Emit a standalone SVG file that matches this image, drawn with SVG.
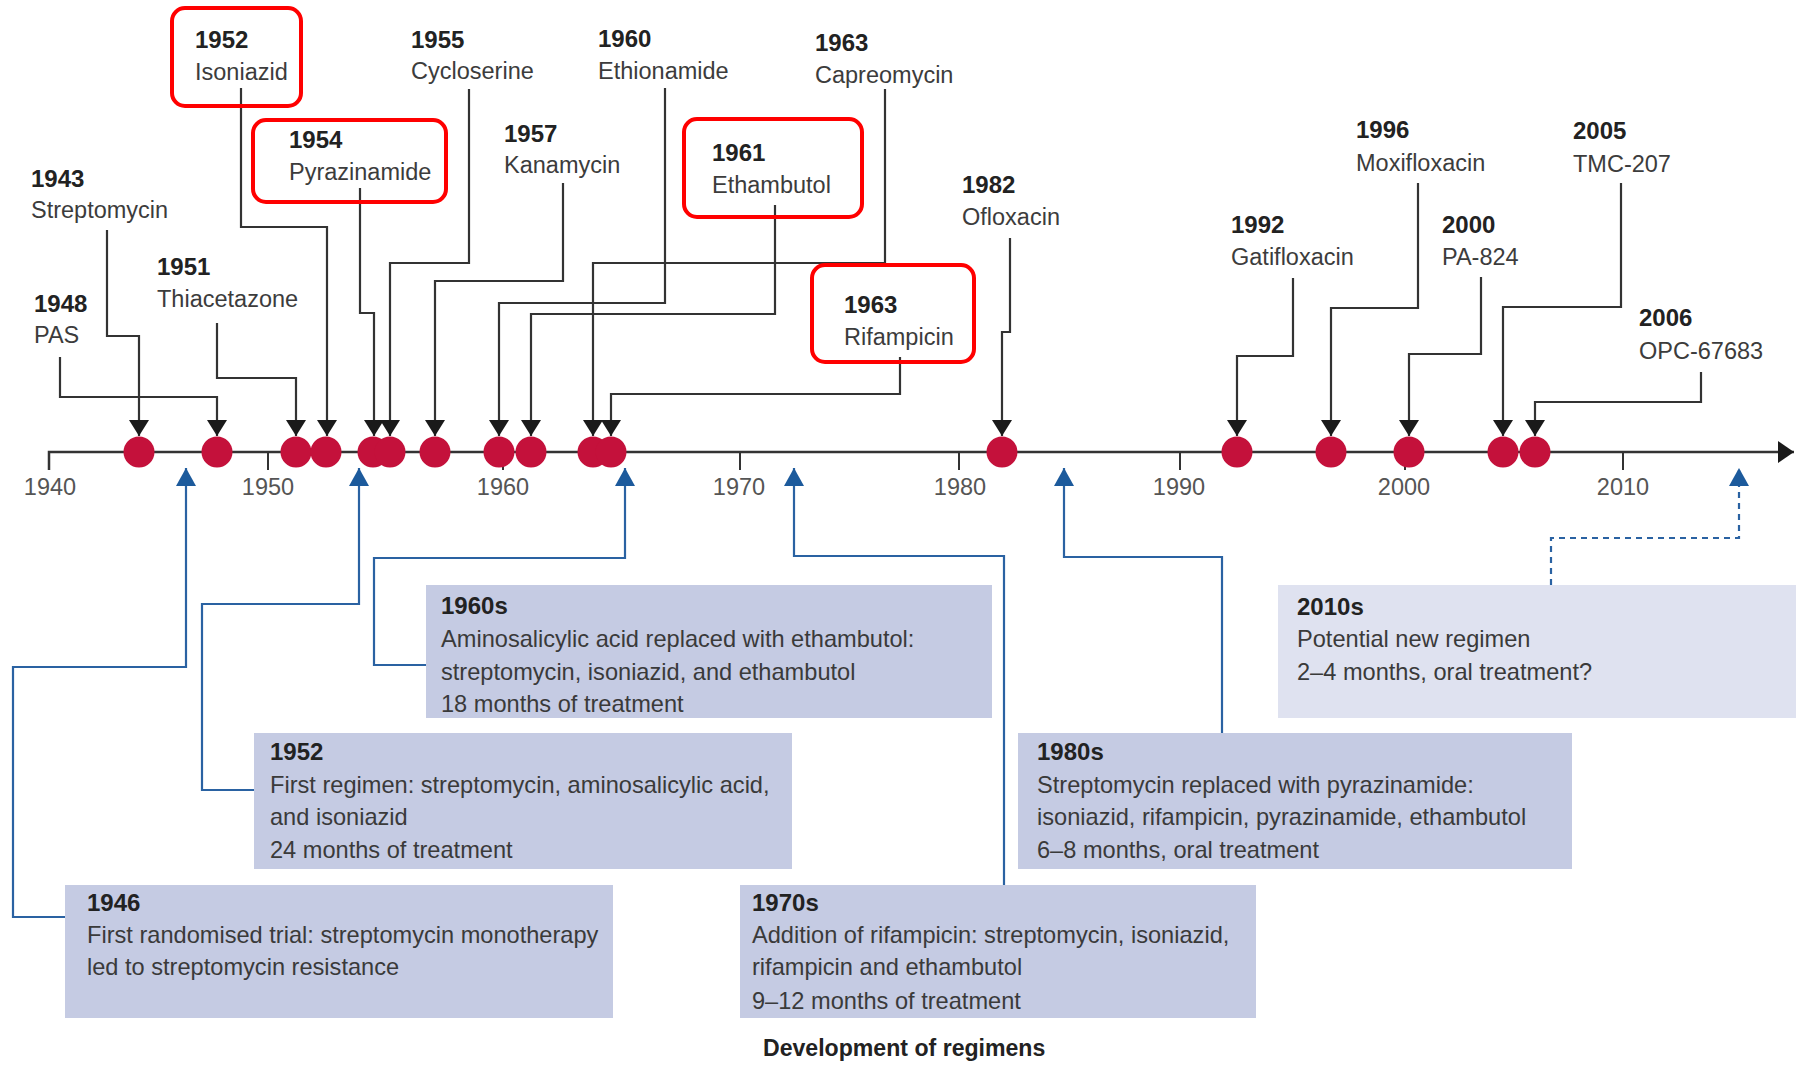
<svg xmlns="http://www.w3.org/2000/svg" width="1796" height="1065" viewBox="0 0 1796 1065">
<defs>
<style>
.yr{font-family:"Liberation Sans",Arial,sans-serif;font-weight:bold;font-size:24px;fill:#222}
.nm{font-family:"Liberation Sans",Arial,sans-serif;font-size:23.5px;fill:#3c3c3c}
.ax{font-family:"Liberation Sans",Arial,sans-serif;font-size:23.5px;fill:#555;text-anchor:middle}
.bt{font-family:"Liberation Sans",Arial,sans-serif;font-size:23.6px;fill:#3a3a3a}
.by{font-family:"Liberation Sans",Arial,sans-serif;font-weight:bold;font-size:24px;fill:#222}
.cap{font-family:"Liberation Sans",Arial,sans-serif;font-weight:bold;font-size:23.1px;fill:#222}
.hl{fill:none;stroke:#ff0000;stroke-width:4}
.dot{fill:#c4113b}
.bk{fill:none;stroke:#333;stroke-width:2.2;marker-end:url(#ab)}
.bl{fill:none;stroke:#2a62a2;stroke-width:2.2;marker-end:url(#au)}
.box{fill:#c5cbe3}
.box2{fill:#dfe2f0}
</style>
<marker id="ab" viewBox="0 0 16 20" refX="16" refY="10" markerWidth="16" markerHeight="20" markerUnits="userSpaceOnUse" orient="auto"><path d="M0,0 L16,10 L0,20 z" fill="#1a1a1a"/></marker>
<marker id="au" viewBox="0 0 18 20" refX="18" refY="10" markerWidth="18" markerHeight="20" markerUnits="userSpaceOnUse" orient="auto"><path d="M0,0 L18,10 L0,20 z" fill="#1c5a9c"/></marker>
<marker id="ax" viewBox="0 0 16 22" refX="16" refY="11" markerWidth="16" markerHeight="22" markerUnits="userSpaceOnUse" orient="auto"><path d="M0,0 L16,11 L0,22 z" fill="#1a1a1a"/></marker>
</defs>
<rect width="1796" height="1065" fill="#ffffff"/>

<g id="axis">
<path d="M49,470 V452 H1794" fill="none" stroke="#333" stroke-width="2.5" marker-end="url(#ax)"/>
<path d="M268,452 V470 M503,452 V470 M740,452 V470 M959,452 V470 M1180,452 V470 M1405,452 V470 M1623,452 V470" stroke="#333" stroke-width="2"/>
<text class="ax" x="50" y="495">1940</text>
<text class="ax" x="268" y="495">1950</text>
<text class="ax" x="503" y="495">1960</text>
<text class="ax" x="739" y="495">1970</text>
<text class="ax" x="960" y="495">1980</text>
<text class="ax" x="1179" y="495">1990</text>
<text class="ax" x="1404" y="495">2000</text>
<text class="ax" x="1623" y="495">2010</text>
</g>

<g id="connectors">
<path class="bk" d="M107,230 V336 H139 V436"/>
<path class="bk" d="M60,357 V397 H217 V436"/>
<path class="bk" d="M217,323 V378 H296 V436"/>
<path class="bk" d="M241,88 V227 H327 V436"/>
<path class="bk" d="M360,188 V313 H374 V436"/>
<path class="bk" d="M469,89 V263 H390 V436"/>
<path class="bk" d="M563,183 V281 H435 V436"/>
<path class="bk" d="M665,88 V303 H499 V436"/>
<path class="bk" d="M775,205 V314 H531 V436"/>
<path class="bk" d="M885,89 V263 H593 V436"/>
<path class="bk" d="M900,357 V394 H611 V436"/>
<path class="bk" d="M1010,238 V332 H1002 V436"/>
<path class="bk" d="M1293,278 V356 H1237 V436"/>
<path class="bk" d="M1418,183 V308 H1331 V436"/>
<path class="bk" d="M1481,277 V354 H1409 V436"/>
<path class="bk" d="M1621,183 V307 H1503 V436"/>
<path class="bk" d="M1701,372 V402 H1535 V436"/>
<path class="bl" d="M65,917 H13 V667 H186 V468"/>
<path class="bl" d="M254,790 H202 V604 H359 V468"/>
<path class="bl" d="M426,665 H374 V558 H625 V468"/>
<path class="bl" d="M1004,885 V556 H794 V468"/>
<path class="bl" d="M1222,733 V557 H1064 V468"/>
<path class="bl" d="M1551,585 V538 H1739 V468" stroke-dasharray="6 5"/>
</g>

<g id="dots">
<circle class="dot" cx="139" cy="452" r="15.5"/>
<circle class="dot" cx="217" cy="452" r="15.5"/>
<circle class="dot" cx="296" cy="452" r="15.5"/>
<circle class="dot" cx="326" cy="452" r="15.5"/>
<circle class="dot" cx="373" cy="452" r="15.5"/>
<circle class="dot" cx="390" cy="452" r="15.5"/>
<circle class="dot" cx="435" cy="452" r="15.5"/>
<circle class="dot" cx="499" cy="452" r="15.5"/>
<circle class="dot" cx="531" cy="452" r="15.5"/>
<circle class="dot" cx="593" cy="452" r="15.5"/>
<circle class="dot" cx="611" cy="452" r="15.5"/>
<circle class="dot" cx="1002" cy="452" r="15.5"/>
<circle class="dot" cx="1237" cy="452" r="15.5"/>
<circle class="dot" cx="1331" cy="452" r="15.5"/>
<circle class="dot" cx="1409" cy="452" r="15.5"/>
<circle class="dot" cx="1503" cy="452" r="15.5"/>
<circle class="dot" cx="1535" cy="452" r="15.5"/>
</g>

<g id="d1943"><text class="yr" x="31" y="187">1943</text><text class="nm" x="31" y="218">Streptomycin</text></g>
<g id="d1948"><text class="yr" x="34" y="312">1948</text><text class="nm" x="34" y="343">PAS</text></g>
<g id="d1951"><text class="yr" x="157" y="275">1951</text><text class="nm" x="157" y="307">Thiacetazone</text></g>
<g id="d1952"><rect class="hl" x="172" y="8" width="129" height="98" rx="13"/><text class="yr" x="195" y="48">1952</text><text class="nm" x="195" y="80">Isoniazid</text></g>
<g id="d1954"><rect class="hl" x="253" y="120" width="193" height="82" rx="13"/><text class="yr" x="289" y="148">1954</text><text class="nm" x="289" y="180">Pyrazinamide</text></g>
<g id="d1955"><text class="yr" x="411" y="48">1955</text><text class="nm" x="411" y="79">Cycloserine</text></g>
<g id="d1957"><text class="yr" x="504" y="142">1957</text><text class="nm" x="504" y="173">Kanamycin</text></g>
<g id="d1960"><text class="yr" x="598" y="47">1960</text><text class="nm" x="598" y="79">Ethionamide</text></g>
<g id="d1961"><rect class="hl" x="684" y="119" width="178" height="98" rx="13"/><text class="yr" x="712" y="161">1961</text><text class="nm" x="712" y="193">Ethambutol</text></g>
<g id="d1963c"><text class="yr" x="815" y="51">1963</text><text class="nm" x="815" y="83">Capreomycin</text></g>
<g id="d1963r"><rect class="hl" x="812" y="265" width="162" height="97" rx="13"/><text class="yr" x="844" y="313">1963</text><text class="nm" x="844" y="345">Rifampicin</text></g>
<g id="d1982"><text class="yr" x="962" y="193">1982</text><text class="nm" x="962" y="225">Ofloxacin</text></g>
<g id="d1992"><text class="yr" x="1231" y="233">1992</text><text class="nm" x="1231" y="265">Gatifloxacin</text></g>
<g id="d1996"><text class="yr" x="1356" y="138">1996</text><text class="nm" x="1356" y="171">Moxifloxacin</text></g>
<g id="d2000"><text class="yr" x="1442" y="233">2000</text><text class="nm" x="1442" y="265">PA-824</text></g>
<g id="d2005"><text class="yr" x="1573" y="139">2005</text><text class="nm" x="1573" y="172">TMC-207</text></g>
<g id="d2006"><text class="yr" x="1639" y="326">2006</text><text class="nm" x="1639" y="359">OPC-67683</text></g>

<g id="r1946"><rect class="box" x="65" y="885" width="548" height="133"/>
<text class="by" x="87" y="911">1946</text>
<text class="bt" x="87" y="943">First randomised trial: streptomycin monotherapy</text>
<text class="bt" x="87" y="975">led to streptomycin resistance</text></g>

<g id="r1952"><rect class="box" x="254" y="733" width="538" height="136"/>
<text class="by" x="270" y="760">1952</text>
<text class="bt" x="270" y="793">First regimen: streptomycin, aminosalicylic acid,</text>
<text class="bt" x="270" y="825">and isoniazid</text>
<text class="bt" x="270" y="858">24 months of treatment</text></g>

<g id="r1960s"><rect class="box" x="426" y="585" width="566" height="133"/>
<text class="by" x="441" y="614">1960s</text>
<text class="bt" x="441" y="647">Aminosalicylic acid replaced with ethambutol:</text>
<text class="bt" x="441" y="680">streptomycin, isoniazid, and ethambutol</text>
<text class="bt" x="441" y="712">18 months of treatment</text></g>

<g id="r1970s"><rect class="box" x="740" y="885" width="516" height="133"/>
<text class="by" x="752" y="911">1970s</text>
<text class="bt" x="752" y="943">Addition of rifampicin: streptomycin, isoniazid,</text>
<text class="bt" x="752" y="975">rifampicin and ethambutol</text>
<text class="bt" x="752" y="1009">9–12 months of treatment</text></g>

<g id="r1980s"><rect class="box" x="1018" y="733" width="554" height="136"/>
<text class="by" x="1037" y="760">1980s</text>
<text class="bt" x="1037" y="793">Streptomycin replaced with pyrazinamide:</text>
<text class="bt" x="1037" y="825">isoniazid, rifampicin, pyrazinamide, ethambutol</text>
<text class="bt" x="1037" y="858">6–8 months, oral treatment</text></g>

<g id="r2010s"><rect class="box2" x="1278" y="585" width="518" height="133"/>
<text class="by" x="1297" y="615">2010s</text>
<text class="bt" x="1297" y="647">Potential new regimen</text>
<text class="bt" x="1297" y="680">2–4 months, oral treatment?</text></g>

<g id="caption"><text class="cap" x="763" y="1056">Development of regimens</text></g>
</svg>
